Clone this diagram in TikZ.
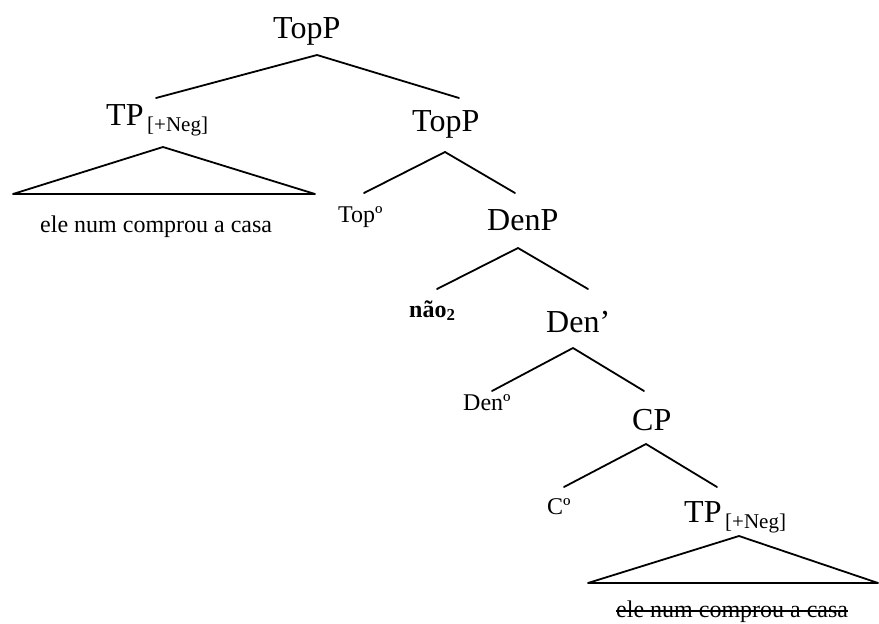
\documentclass[tikz,border=0pt]{standalone}
\usepackage{fontspec}
\setmainfont{Liberation Serif}
\begin{document}
\begin{tikzpicture}[x=1pt,y=-1pt,
  big/.style={font=\fontsize{32}{32}\selectfont, inner sep=0pt, anchor=base west},
  mid/.style={font=\fontsize{24}{24}\selectfont, inner sep=0pt, anchor=base west},
  subl/.style={font=\fontsize{21}{21}\selectfont, inner sep=0pt, anchor=base west},
  edge/.style={line width=1.8pt, line cap=round, line join=round}]
\useasboundingbox (0,0) rectangle (879,624);
% labels
\node[big] (root) at (273,38) {TopP};
\node[big] (tpL) at (106,125) {TP};
\node[subl] (tpLs) at (147,131) {[+Neg]};
\node[mid] (leafA) at (40,232) {ele num comprou a casa};
\node[big] (topP) at (412,131) {TopP};
\node[mid] (top0) at (338,222) {Topº};
\node[big] (denP) at (487,230) {DenP};
\node[mid] (nao) at (409,317) {\textbf{não\textsubscript{2}}};
\node[big] (denbar) at (546,332) {Den’};
\node[mid] (den0) at (463,410) {Denº};
\node[big] (cp) at (632,430) {CP};
\node[mid] (c0) at (547,514) {Cº};
\node[big] (tpR) at (684,522) {TP};
\node[subl] (tpRs) at (725,528) {[+Neg]};
\node[mid] (leafB) at (616,617) {ele num comprou a casa};
% branch points
\coordinate (a1) at (317,55);
\coordinate (a1l) at (156,98);
\coordinate (a1r) at (459,98);
\coordinate (t1) at (163,147);
\coordinate (t1l) at (13,194);
\coordinate (t1r) at (315,194);
\coordinate (a2) at (445,152);
\coordinate (a2l) at (364,193);
\coordinate (a2r) at (515,193);
\coordinate (a3) at (518,248);
\coordinate (a3l) at (437,289);
\coordinate (a3r) at (588,289);
\coordinate (a4) at (573,348);
\coordinate (a4l) at (492,391);
\coordinate (a4r) at (644,391);
\coordinate (a5) at (646,444);
\coordinate (a5l) at (564,487);
\coordinate (a5r) at (717,487);
\coordinate (t2) at (739,536);
\coordinate (t2l) at (588,583);
\coordinate (t2r) at (878,583);
% connectors
\draw[edge] (a1l) -- (a1) -- (a1r);
\draw[edge] (t1l) -- (t1) -- (t1r) -- cycle;
\draw[edge] (a2l) -- (a2) -- (a2r);
\draw[edge] (a3l) -- (a3) -- (a3r);
\draw[edge] (a4l) -- (a4) -- (a4r);
\draw[edge] (a5l) -- (a5) -- (a5r);
\draw[edge] (t2l) -- (t2) -- (t2r) -- cycle;
% strike-through
\draw[line width=1.6pt] ([yshift=6pt]leafB.base west) -- ([yshift=6pt]leafB.base east);
\end{tikzpicture}
\end{document}
